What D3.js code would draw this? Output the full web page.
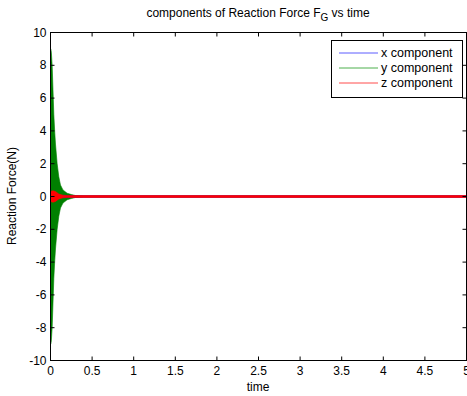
<!DOCTYPE html>
<html><head><meta charset="utf-8">
<script src="https://cdn.jsdelivr.net/npm/d3@7"></script>
<style>body{margin:0;background:#fff}svg{display:block}text{font-family:"Liberation Sans",Arial,sans-serif;fill:#000}</style>
</head><body>
<script>
// Envelope data (amplitude of dense oscillations)
const greenT = [0,0.004,0.01,0.02,0.03,0.04,0.05,0.06,0.08,0.1,0.12,0.15,0.2,0.25,0.3,0.4,5];
const greenA = [9.0,9.0,8.8,8.0,6.5,5.0,4.0,3.2,2.0,1.2,0.7,0.4,0.2,0.12,0.06,0.03,0.03];
const redT = [0,0.01,0.03,0.06,0.1,0.15,0.2,5];
const redA = [0.3,0.32,0.35,0.3,0.15,0.08,0.06,0.06];
const blueT = [0,0.1,0.3,5];
const blueA = [0.06,0.06,0.05,0.05];
const xTicks = [0,0.5,1,1.5,2,2.5,3,3.5,4,4.5,5];
const yTicks = [-10,-8,-6,-4,-2,0,2,4,6,8,10];
const legendLabels = ["x component","y component","z component"];
const legendLineColors = ["#5c5cff","#4caf4c","#ff4c4c"];

const W=467,H=396, L=50.5, R=466.5, T=32.5, B=360.5;
const svg=d3.select("body").append("svg").attr("width",W).attr("height",H);
const x=d3.scaleLinear().domain([0,5]).range([L,R]);
const y=d3.scaleLinear().domain([-10,10]).range([B,T]);

function band(ts,as,color){
  const data=ts.map((t,i)=>({t,a:as[i]}));
  svg.append("path").datum(data)
    .attr("d",d3.area().x(d=>x(d.t)).y0(d=>y(-d.a)).y1(d=>y(d.a)))
    .attr("fill",color).attr("stroke",color).attr("stroke-width",0.6);
}
band(greenT,greenA,"#008000");
band(blueT,blueA,"#0000ff");
band(redT,redA,"#ff0000");

// axes box with inward ticks
const g=svg.append("g");
g.append("rect").attr("x",L).attr("y",T).attr("width",R-L).attr("height",B-T).attr("fill","none").attr("stroke","#000");
xTicks.forEach(v=>{
  g.append("line").attr("x1",x(v)).attr("x2",x(v)).attr("y1",B).attr("y2",B-4).attr("stroke","#000");
  g.append("line").attr("x1",x(v)).attr("x2",x(v)).attr("y1",T).attr("y2",T+4).attr("stroke","#000");
  g.append("text").attr("x",x(v)).attr("y",375).attr("text-anchor","middle").attr("font-size",12).text(v);
});
yTicks.forEach(v=>{
  g.append("line").attr("x1",L).attr("x2",L+4).attr("y1",y(v)).attr("y2",y(v)).attr("stroke","#000");
  g.append("line").attr("x1",R).attr("x2",R-4).attr("y1",y(v)).attr("y2",y(v)).attr("stroke","#000");
  g.append("text").attr("x",L-4).attr("y",y(v)+4).attr("text-anchor","end").attr("font-size",12).text(v);
});

// labels
svg.append("text").attr("x",258).attr("y",391).attr("text-anchor","middle").attr("font-size",12).text("time");
svg.append("text").attr("transform","translate(16,196) rotate(-90)").attr("text-anchor","middle").attr("font-size",12).text("Reaction Force(N)");
const title=svg.append("text").attr("x",258).attr("y",17).attr("text-anchor","middle").attr("font-size",12);
title.append("tspan").text("components of Reaction Force F");
title.append("tspan").attr("dy",4).attr("font-size",10).text("G");
title.append("tspan").attr("dy",-4).text(" vs time");

// legend
const lg=svg.append("g");
lg.append("rect").attr("x",331.5).attr("y",40.5).attr("width",131).attr("height",57).attr("fill","#fff").attr("stroke","#000");
legendLabels.forEach((s,i)=>{
  const yy=53+i*15;
  lg.append("line").attr("x1",339).attr("x2",378).attr("y1",yy).attr("y2",yy).attr("stroke",legendLineColors[i]).attr("stroke-width",1);
  lg.append("text").attr("x",381).attr("y",yy+4).attr("font-size",12.5).text(s);
});
</script>
</body></html>
